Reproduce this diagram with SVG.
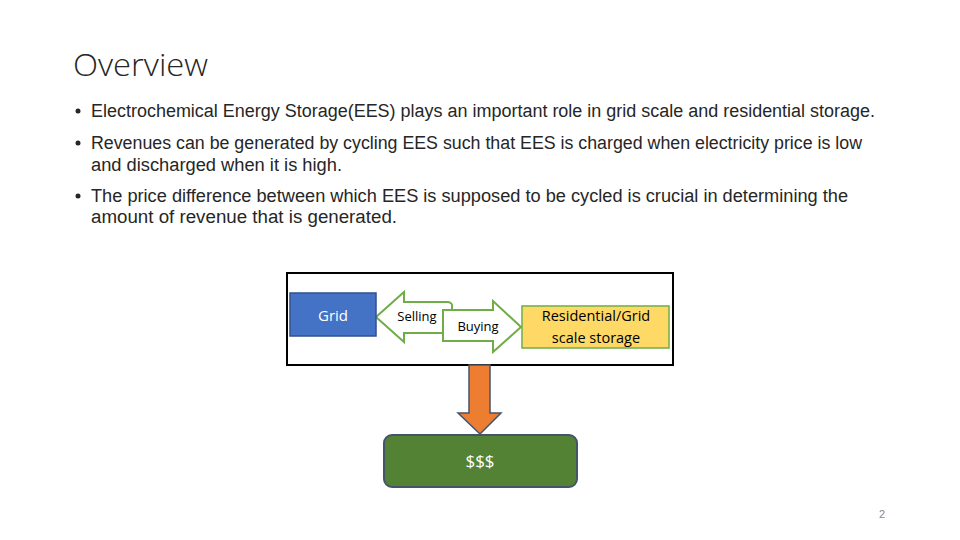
<svg xmlns="http://www.w3.org/2000/svg" width="960" height="540" viewBox="0 0 960 540">
<style>
.t{font-family:"Open Sans","Liberation Sans",sans-serif;fill:#262626}
.b{font-family:"Liberation Sans",sans-serif;font-size:18px;fill:#262626}
.s{font-family:"Open Sans","Liberation Sans",sans-serif;font-size:13px}
.m{font-size:14px}
.ga{fill:#ffffff;stroke:#70AD47;stroke-width:2;stroke-linejoin:miter}
</style>
<rect width="960" height="540" fill="#ffffff"/>
<text class="t" x="73" y="76" font-size="32" font-weight="300" textLength="135" lengthAdjust="spacingAndGlyphs">Overview</text>
<g class="b">
<circle cx="78" cy="111" r="2.5" fill="#262626"/>
<text x="91" y="117" textLength="784" lengthAdjust="spacingAndGlyphs">Electrochemical Energy Storage(EES) plays an important role in grid scale and residential storage.</text>
<circle cx="78" cy="143" r="2.5" fill="#262626"/>
<text x="91" y="149" textLength="771" lengthAdjust="spacingAndGlyphs">Revenues can be generated by cycling EES such that EES is charged when electricity price is low</text>
<text x="91" y="171" textLength="251" lengthAdjust="spacingAndGlyphs">and discharged when it is high.</text>
<circle cx="78" cy="196" r="2.5" fill="#262626"/>
<text x="91" y="202" textLength="757" lengthAdjust="spacingAndGlyphs">The price difference between which EES is supposed to be cycled is crucial in determining the</text>
<text x="91" y="223" textLength="306" lengthAdjust="spacingAndGlyphs">amount of revenue that is generated.</text>
</g>
<g id="frame"><rect x="287" y="273" width="386" height="92" fill="none" stroke="#000" stroke-width="2"/></g>
<g id="connectors">
<path id="selling" class="ga" d="M376,317 L404,292 L404,302 L448,302 Q453,303 452,307 L452,333 L404,333 L404,342 Z"/>
<path id="buying" class="ga" d="M443,310 L493,310 L493,301 L521,327 L493,352 L493,341 L443,341 Z"/>
<path id="down" d="M469,365 L490,365 L490,413 L501,413 L480,434 L458,413 L469,413 Z" fill="#ED7D31" stroke="#44546A" stroke-width="1.5"/>
<text class="s" x="417" y="321" text-anchor="middle" fill="#000">Selling</text>
<text class="s" x="478" y="331" text-anchor="middle" fill="#000">Buying</text>
</g>
<g id="grid">
<rect x="290" y="293" width="86" height="43" fill="#4472C4" stroke="#2F528F" stroke-width="1.5"/>
<text class="s" x="333" y="321" style="font-size:15px" text-anchor="middle" fill="#ffffff">Grid</text>
</g>
<g id="storage">
<rect x="522" y="306" width="147" height="42" fill="#FFD966" stroke="#70AD47" stroke-width="1.5"/>
<text class="s" x="596" y="321" style="font-size:14.5px" text-anchor="middle" fill="#000">Residential/Grid</text>
<text class="s" x="596" y="343" style="font-size:14.5px" text-anchor="middle" fill="#000">scale storage</text>
</g>
<g id="money">
<rect x="384" y="435" width="193" height="52" rx="8" fill="#548235" stroke="#44546A" stroke-width="2"/>
<text class="s" x="480" y="467" style="font-size:17px" text-anchor="middle" fill="#ffffff">$$$</text>
</g>
<text x="882" y="518" font-family="Liberation Sans,sans-serif" font-size="11" fill="#898989" text-anchor="middle">2</text>
</svg>
